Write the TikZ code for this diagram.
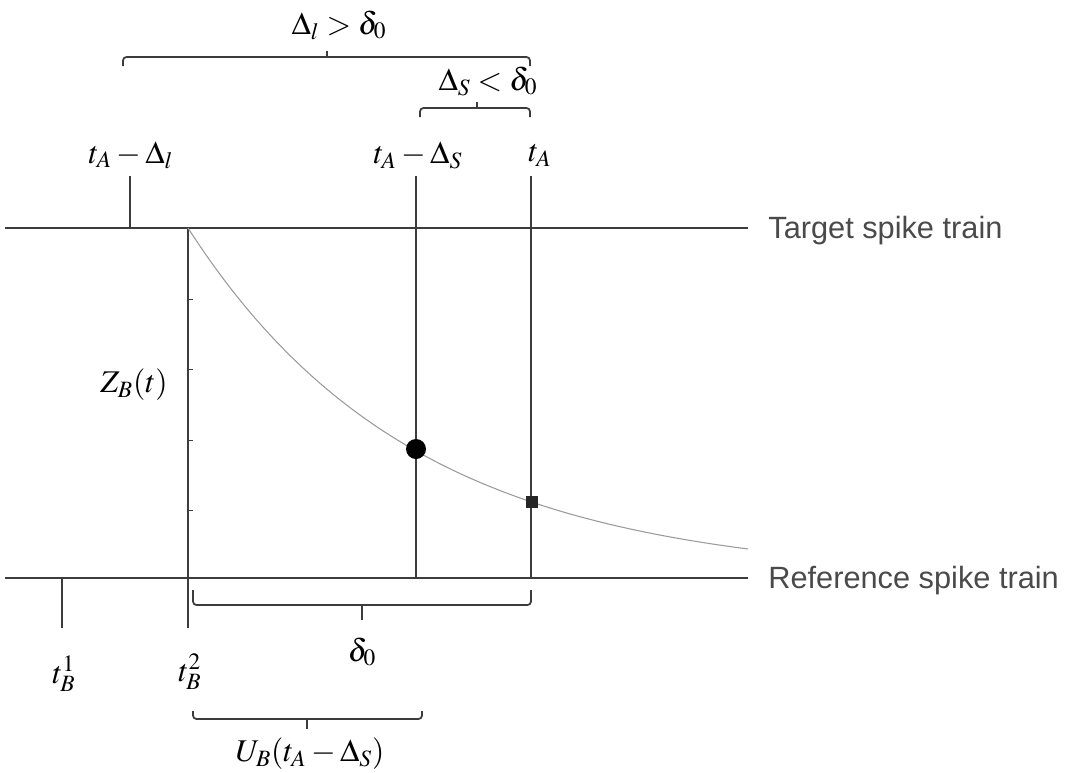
\documentclass[tikz,border=0pt]{standalone}
\usepackage{mathptmx}
\usepackage[no-math]{fontspec}
\usetikzlibrary{positioning,calc}
\newfontfamily\trainfont{Liberation Sans}
\definecolor{linegray}{HTML}{3C3C3C}
\definecolor{curvegray}{HTML}{9A9A9A}
\definecolor{textgray}{HTML}{4A4A4A}

\begin{document}
\begin{tikzpicture}[x=0.02cm,y=-0.02cm,
  train/.style={line width=1.1pt,draw=linegray},
  spikeline/.style={line width=1.1pt,draw=linegray},
  bracket/.style={line width=1pt,draw=linegray,rounded corners=2pt},
  mlabel/.style={inner sep=1pt,font=\fontsize{18}{21}\selectfont},
  trainlabel/.style={anchor=west,inner sep=0pt,text=textgray,font=\trainfont\fontsize{17.5}{20}\selectfont}]
\useasboundingbox (0,0) rectangle (1071,772);

% the two spike trains
\coordinate (tgtL) at (5,228);
\coordinate (tgtR) at (748,228);
\coordinate (refL) at (5,578);
\coordinate (refR) at (748,578);
\draw[train] (tgtL) -- (tgtR);
\draw[train] (refL) -- (refR);
\node[trainlabel] (tgtlab) at (768,231) {Target spike train};
\node[trainlabel] (reflab) at (768,581) {Reference spike train};

% spikes and time marks
\coordinate (tb1) at (62,578);   \coordinate (tb1low) at (62,628);
\coordinate (tb2top) at (188,228); \coordinate (tb2) at (188,578); \coordinate (tb2low) at (188,628);
\coordinate (tAltop) at (130,176); \coordinate (tAl) at (130,228);
\coordinate (tAStop) at (416,176); \coordinate (tAS) at (416,578);
\coordinate (tAtop) at (531,176);  \coordinate (tA) at (531,578);
\draw[spikeline] (tb1) -- (tb1low);
\draw[spikeline] (tb2top) -- (tb2low);
\draw[spikeline] (tAltop) -- (tAl);
\draw[spikeline] (tAStop) -- (tAS);
\draw[spikeline] (tAtop) -- (tA);
% small ticks on the Z axis
\foreach \yy in {299,369,440,510}
  \draw[linegray,line width=0.5pt] (188,\yy) -- (193,\yy);

% decay of Z_B(t)
\draw[curvegray,line width=0.6pt,domain=188:748,samples=90] plot (\x,{578-350*exp(-(\x-188)/225)});
\node[circle,fill=black,inner sep=0pt,minimum size=0.4cm] (dotS) at (416,449) {};
\node[rectangle,fill=black!85,inner sep=0pt,minimum size=0.24cm] (dotA) at (532,502) {};

% labels above
\node[mlabel] (labtAl) at (131,155) {$t_A - \Delta_l$};
\node[mlabel] (labtAS) at (418,155) {$t_A - \Delta_S$};
\node[mlabel] (labtA) at (540,155) {$t_A$};
\node[mlabel] (labZ) at (134,385) {$Z_B(t)$};

% brackets above
\draw[bracket] (123,66) -- (123,57) -- (530,57) -- (530,66);
\draw[linegray,line width=1pt] (327,57) -- (327,51);
\node[mlabel] (labDl) at (339,25) {$\Delta_l > \delta_{0}$};
\draw[bracket] (420,117) -- (420,108) -- (530,108) -- (530,117);
\draw[linegray,line width=1pt] (477,108) -- (477,102);
\node[mlabel] (labDS) at (488,81) {$\Delta_S < \delta_{0}$};

% labels and brackets below
\node[mlabel] (labtb1) at (64,674) {$t_B^1$};
\node[mlabel] (labtb2) at (190,672) {$t_B^2$};
\draw[bracket] (193,590) -- (193,605) -- (531,605) -- (531,590);
\draw[linegray,line width=1pt] (362,605) -- (362,620);
\node[mlabel] (labd0) at (362,652) {$\delta_{0}$};
\draw[bracket] (193,711) -- (193,719) -- (422,719) -- (422,711);
\draw[linegray,line width=1pt] (307,719) -- (307,729);
\node[mlabel] (labU) at (310,754) {$U_B(t_A - \Delta_S)$};
\end{tikzpicture}
\end{document}
